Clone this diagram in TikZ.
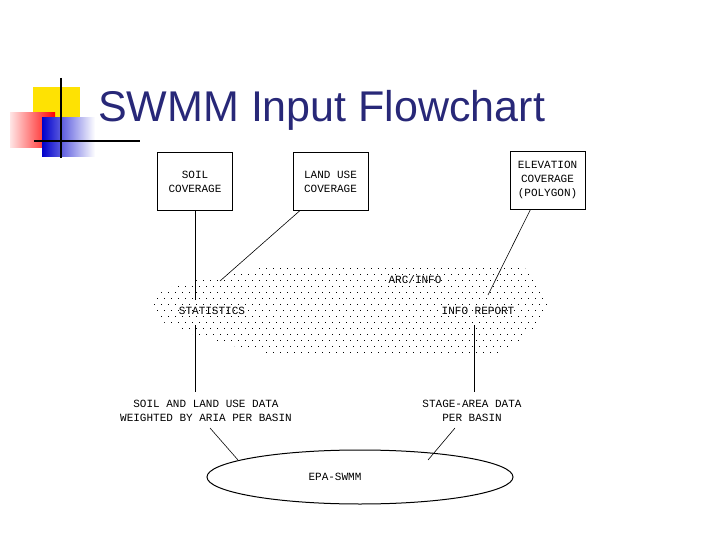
\documentclass[tikz,border=0pt]{standalone}
\usepackage{fontspec}
\setmainfont{Liberation Sans}
\newfontfamily\pix{Liberation Mono}
\usetikzlibrary{shapes.geometric}
\begin{document}
\begin{tikzpicture}[x=1pt,y=-1pt,
  lbl/.style={font=\pix\fontsize{11}{14}\selectfont, align=center, inner sep=1pt},
  box/.style={draw, line width=0.8pt, minimum width=75pt, minimum height=58pt, lbl},
  ln/.style={line width=0.6pt}]
\useasboundingbox (0,0) rectangle (720,540);
% logo
\fill[yellow!85!orange] (33,87) rectangle (80,130);
\shade[left color=red!10, right color=red] (10,113) rectangle (55,148);
\shade[left color=blue!80!black, right color=white] (42,118) rectangle (95,157);
\draw[line width=1.5pt] (61,78) -- (61,158);
\draw[line width=1.5pt] (34,141) -- (140,141);
\node[anchor=west, text={rgb,255:red,40;green,40;blue,120}, font=\fontsize{43}{50}\selectfont, inner sep=0] (title) at (98,110) {SWMM Input Flowchart};
% boxes
\node[box] (soil) at (195,181.5) {SOIL\\COVERAGE};
\node[box] (land) at (330.5,181.5) {LAND USE\\COVERAGE};
\node[box] (elev) at (547.5,180) {ELEVATION\\COVERAGE\\(POLYGON)};
% dotted region
\begin{scope}
\clip plot[smooth cycle, tension=0.6] coordinates {(305,265) (505,265) (535,285) (548,310) (520,340) (480,355) (300,355) (230,345) (157,318) (165,290) (240,272)};
\foreach \j in {0,...,16} {
  \pgfmathsetmacro{\yy}{262+6*\j}
  \pgfmathsetmacro{\off}{mod(\j,2)*3.5}
  \foreach \i in {0,...,58} {
    \fill (150+\off+7*\i,\yy) rectangle ++(1.3,1.3);
  }
}
\end{scope}
\node[lbl] (arc) at (415,280) {ARC/INFO};
\node[lbl] (stat) at (212,311) {STATISTICS};
\node[lbl] (info) at (478,311) {INFO REPORT};
% lower texts
\node[lbl] (soild) at (206,410.5) {SOIL AND LAND USE DATA\\WEIGHTED BY ARIA PER BASIN};
\node[lbl] (stage) at (472,410.5) {STAGE-AREA DATA\\PER BASIN};
\node[draw, ellipse, line width=1pt, minimum width=306pt, minimum height=54pt, lbl] (epa) at (360,477) {};
\node[lbl] (epat) at (335,477) {EPA-SWMM};
% connectors
\coordinate (s1) at (195,300); \coordinate (l1) at (220,281); \coordinate (e1) at (488,295);
\draw[ln] (soil.south) -- (s1);
\draw[ln] (land.south west) ++(7,0) coordinate (l0) -- (l1);
\draw[ln] (elev.south) ++(-17,0) coordinate (e0) -- (e1);
\draw[ln] (195,325) coordinate (s2) -- (195,392) coordinate (s3);
\draw[ln] (474,325) coordinate (i2) -- (474,392) coordinate (i3);
\draw[ln] (210,428) coordinate (a1) -- (238,460) coordinate (a2);
\draw[ln] (455,428) coordinate (b1) -- (428,460) coordinate (b2);
\end{tikzpicture}
\end{document}
